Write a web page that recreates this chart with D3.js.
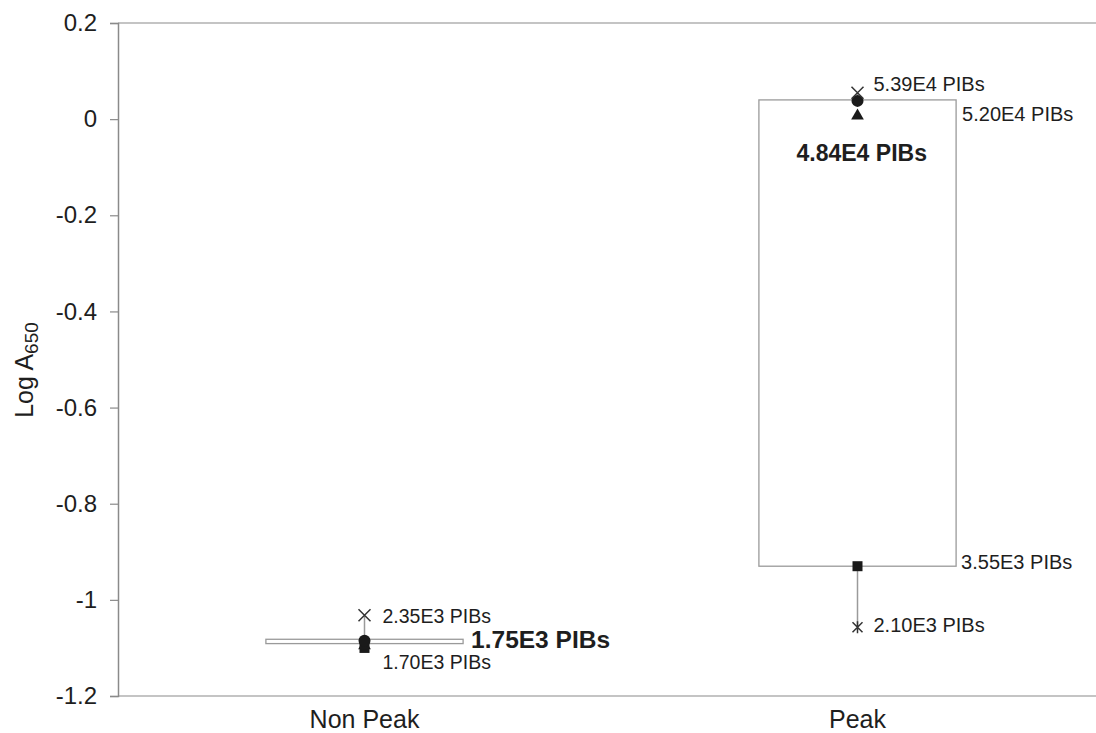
<!DOCTYPE html>
<html>
<head>
<meta charset="utf-8">
<script src="https://cdn.jsdelivr.net/npm/d3@7"></script>
<style>
  html, body { margin: 0; padding: 0; background: #fff; }
  svg { display: block; font-family: "Liberation Sans", Arial, sans-serif; }
</style>
</head>
<body>
<svg id="chart" width="1096" height="733"></svg>
<script>
// Log A650 summary per group
const categories = ["Non Peak", "Peak"];
const tickValues = [0.2, 0, -0.2, -0.4, -0.6, -0.8, -1, -1.2];
const tickLabels = ["0.2", "0", "-0.2", "-0.4", "-0.6", "-0.8", "-1", "-1.2"];

const boxTop    = [-1.082, 0.040];
const boxBottom = [-1.091, -0.930];
const maxVals   = [-1.032, 0.055];   // cross
const upperVals = [-1.085, 0.038];   // circle
const midVals   = [-1.095, 0.007];   // triangle
const lowerVals = [-1.100, -0.930];  // square
const minVals   = [null, -1.057];    // asterisk

const maxLabels   = ["2.35E3 PIBs", "5.39E4 PIBs"];
const upperLabels = ["1.75E3 PIBs", "4.84E4 PIBs"];   // bold
const sideLabels  = [null, "5.20E4 PIBs"];
const lowLabels   = ["1.70E3 PIBs", "3.55E3 PIBs"];
const minLabels   = [null, "2.10E3 PIBs"];

const margin = { left: 118, right: -8, top: 23, bottom: 37 };
const W = 1096, H = 733;
const svg = d3.select("#chart");

const y = d3.scaleLinear().domain([-1.2, 0.2]).range([H - margin.bottom, margin.top]);
const x = d3.scaleBand().domain(categories).range([margin.left, W - margin.right]);
const cx = c => x(c) + x.bandwidth() / 2;
const boxW = x.bandwidth() * 0.4;

const axisColor = "#8a8a8a";
const boxColor = "#9a9a9a";
const textColor = "#1e1e1e";

// frame: top and bottom lines
svg.append("line").attr("x1", margin.left).attr("x2", W).attr("y1", y(0.2)).attr("y2", y(0.2))
  .attr("stroke", axisColor).attr("stroke-width", 1.2);
svg.append("line").attr("x1", margin.left).attr("x2", W).attr("y1", y(-1.2)).attr("y2", y(-1.2))
  .attr("stroke", axisColor).attr("stroke-width", 1.2);

// y axis
const yAxis = svg.append("g").attr("transform", `translate(${margin.left},0)`)
  .call(d3.axisLeft(y).tickValues(tickValues).tickSize(8).tickPadding(13)
    .tickFormat((d, i) => tickLabels[i]));
yAxis.select(".domain").attr("stroke", axisColor).attr("stroke-width", 1.5);
yAxis.selectAll(".tick line").attr("stroke", axisColor).attr("stroke-width", 1.2);
yAxis.selectAll(".tick text").attr("fill", textColor).style("font-size", "24px")
  .style("font-family", "Liberation Sans, Arial, sans-serif");

// x category labels
svg.selectAll(".cat").data(categories).enter().append("text")
  .attr("x", d => cx(d)).attr("y", 728).attr("text-anchor", "middle")
  .attr("fill", textColor).style("font-size", "25px").text(d => d);

// y title with subscript
const yt = svg.append("text").attr("transform", `translate(33,370) rotate(-90)`)
  .attr("text-anchor", "middle").attr("fill", textColor).style("font-size", "25px");
yt.append("tspan").text("Log A");
yt.append("tspan").attr("dy", 5).style("font-size", "19px").text("650");

const g = svg.append("g");

const small = (tx, ty, t, size) => g.append("text").attr("x", tx).attr("y", ty).attr("fill", textColor)
  .style("font-size", size + "px").text(t);
const bold = (tx, ty, t, size) => g.append("text").attr("x", tx).attr("y", ty).attr("fill", textColor)
  .style("font-size", size + "px").style("font-weight", "bold").text(t);

categories.forEach((c, i) => {
  const xc = cx(c);
  // whiskers
  g.append("line").attr("x1", xc).attr("x2", xc).attr("y1", y(maxVals[i])).attr("y2", y(upperVals[i]))
    .attr("stroke", boxColor).attr("stroke-width", 1.5);
  if (minVals[i] !== null) {
    g.append("line").attr("x1", xc).attr("x2", xc).attr("y1", y(lowerVals[i])).attr("y2", y(minVals[i]))
      .attr("stroke", boxColor).attr("stroke-width", 1.5);
  }
  // box
  g.append("rect").attr("x", xc - boxW / 2).attr("width", boxW)
    .attr("y", y(boxTop[i])).attr("height", y(boxBottom[i]) - y(boxTop[i]))
    .attr("fill", "none").attr("stroke", boxColor).attr("stroke-width", 1.3);

  // markers
  const sq = 10;
  g.append("rect").attr("x", xc - sq / 2).attr("y", y(lowerVals[i]) - sq / 2).attr("width", sq).attr("height", sq)
    .attr("fill", "#1a1a1a");
  g.append("path").attr("d", d3.symbol(d3.symbolTriangle, 70)())
    .attr("transform", `translate(${xc},${y(midVals[i])})`).attr("fill", "#1a1a1a");
  g.append("circle").attr("cx", xc).attr("cy", y(upperVals[i])).attr("r", 6).attr("fill", "#1a1a1a");
  // cross
  const k = 6;
  const ym = y(maxVals[i]);
  g.append("path").attr("d", `M${xc - k},${ym - k}L${xc + k},${ym + k}M${xc - k},${ym + k}L${xc + k},${ym - k}`)
    .attr("stroke", "#333").attr("stroke-width", 1.5).attr("fill", "none");
  // asterisk
  if (minVals[i] !== null) {
    const ya = y(minVals[i]);
    g.append("path").attr("d", `M${xc - 5},${ya - 5}L${xc + 5},${ya + 5}M${xc - 5},${ya + 5}L${xc + 5},${ya - 5}M${xc},${ya - 6}L${xc},${ya + 6}`)
      .attr("stroke", "#333").attr("stroke-width", 1.5).attr("fill", "none");
  }

  // annotations
  if (i === 0) {
    small(xc + 18, y(maxVals[i]) + 8, maxLabels[i], 19.5);
    small(xc + 18, y(lowerVals[i]) + 21, lowLabels[i], 19.5);
    bold(xc + boxW / 2 + 8, y(boxTop[i]) + 9, upperLabels[i], 24.5);
  } else {
    small(xc + 16, y(maxVals[i]) - 2, maxLabels[i], 20);
    small(xc + boxW / 2 + 6, y(midVals[i]) + 5, sideLabels[i], 20);
    bold(xc - 61, y(upperVals[i]) + 60, upperLabels[i], 23);
    small(xc + boxW / 2 + 5, y(lowerVals[i]) + 3, lowLabels[i], 20);
    small(xc + 16, y(minVals[i]) + 5, minLabels[i], 20);
  }
});
</script>
</body>
</html>
